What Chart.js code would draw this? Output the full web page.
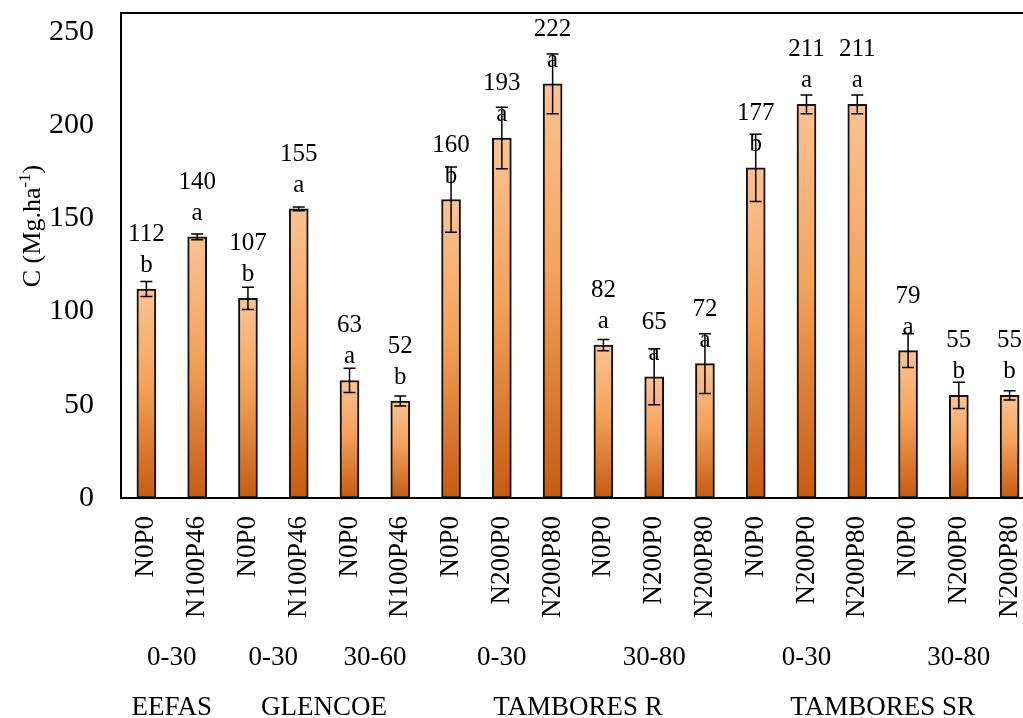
<!DOCTYPE html>
<html>
<head>
<meta charset="utf-8">
<script src="https://cdn.jsdelivr.net/npm/chart.js@4.4.1/dist/chart.umd.min.js"></script>
<style>
  html, body { margin: 0; padding: 0; background: #fff; overflow: hidden; }
  #wrap { width: 1023px; height: 718px; overflow: hidden; }
</style>
</head>
<body>
<div id="wrap"><canvas id="chart" width="1040" height="718"></canvas></div>
<script>
//-----------------------------------------------------------------------------
// data
//-----------------------------------------------------------------------------
const treatments = ["N0P0","N100P46","N0P0","N100P46","N0P0","N100P46",
                    "N0P0","N200P0","N200P80","N0P0","N200P0","N200P80",
                    "N0P0","N200P0","N200P80","N0P0","N200P0","N200P80"];
const carbon  = [112, 140, 107, 155, 63, 52, 160, 193, 222, 82, 65, 72, 177, 211, 211, 79, 55, 55];
const errors  = [4, 1.5, 6, 1, 6.5, 2.7, 17.5, 16.5, 16, 3, 15, 16, 18, 5, 5, 9, 7, 2.5];
const letters = ["b","a","b","a","a","b","b","a","a","a","a","a","b","a","a","a","b","b"];
// second and third row of the category axis: [label, first index, last index]
const depths = [["0-30",0,1],["0-30",2,3],["30-60",4,5],["0-30",6,8],["30-80",9,11],["0-30",12,14],["30-80",15,17]];
const sites  = [["EEFAS",0,1],["GLENCOE",2,5],["TAMBORES R",6,11],["TAMBORES SR",12,17]];
const yTicks = [0, 50, 100, 150, 200, 250];

const SERIF = '"Liberation Serif", "Times New Roman", serif';

// gradient per bar, light on top, dark at the base
function barFill(context){
    const chart = context.chart;
    const y = chart.scales.y;
    if (!y || context.dataIndex === undefined) return "#f4a460";
    const top  = y.getPixelForValue(carbon[context.dataIndex]);
    const base = y.getPixelForValue(0);
    if (!isFinite(top) || !isFinite(base)) return "#f4a460";
    const g = chart.ctx.createLinearGradient(0, top, 0, base);
    g.addColorStop(0, "#fac393");
    g.addColorStop(0.45, "#f5a35b");
    g.addColorStop(1, "#c65b10");
    return g;
}

// keep the plot box where the figure has it
function noPadding(scale){
    scale.paddingTop = 0;
    scale.paddingBottom = 0;
    scale.paddingLeft = 0;
    scale.paddingRight = 0;
}

//-----------------------------------------------------------------------------
// extras drawn on top: frame, labels, error bars, lower axis rows, y title
//-----------------------------------------------------------------------------
const extras = {
    id: "extras",
    afterDatasetsDraw(chart){
        const ctx = chart.ctx;
        const area = chart.chartArea;
        const x = chart.scales.x;
        const y = chart.scales.y;
        const bars = chart.getDatasetMeta(0).data;

        // value + letter above each bar
        ctx.save();
        ctx.fillStyle = "#000";
        ctx.textAlign = "center";
        ctx.textBaseline = "alphabetic";
        ctx.font = `25px ${SERIF}`;
        bars.forEach((bar, i)=>{
            ctx.fillText(letters[i], bar.x, bar.y - 17);
            ctx.fillText(String(carbon[i]), bar.x, bar.y - 48);
        });
        ctx.restore();

        // error bars
        ctx.save();
        ctx.strokeStyle = "#000";
        ctx.lineWidth = 1.5;
        bars.forEach((bar, i)=>{
            const hi = y.getPixelForValue(carbon[i] + errors[i]);
            const lo = y.getPixelForValue(carbon[i] - errors[i]);
            ctx.beginPath();
            ctx.moveTo(bar.x, hi); ctx.lineTo(bar.x, lo);
            ctx.moveTo(bar.x - 6, hi); ctx.lineTo(bar.x + 6, hi);
            ctx.moveTo(bar.x - 6, lo); ctx.lineTo(bar.x + 6, lo);
            ctx.stroke();
        });
        ctx.restore();

        // plot frame
        ctx.save();
        ctx.strokeStyle = "#000";
        ctx.lineWidth = 2;
        ctx.strokeRect(area.left, area.top, area.right - area.left, area.bottom - area.top);
        ctx.restore();

        // depth and site rows under the treatments
        ctx.save();
        ctx.fillStyle = "#000";
        ctx.textAlign = "center";
        ctx.textBaseline = "alphabetic";
        ctx.font = `27px ${SERIF}`;
        depths.forEach(([label, a, b])=>{
            const cx = (x.getPixelForValue(a) + x.getPixelForValue(b)) / 2;
            ctx.fillText(label, cx, 665);
        });
        sites.forEach(([label, a, b])=>{
            const cx = (x.getPixelForValue(a) + x.getPixelForValue(b)) / 2;
            ctx.fillText(label, cx, 715);
        });
        ctx.restore();

        // y title with superscript
        ctx.save();
        ctx.translate(40, 226);
        ctx.rotate(-Math.PI / 2);
        ctx.fillStyle = "#000";
        ctx.textBaseline = "alphabetic";
        const big = `26px ${SERIF}`, small = `17px ${SERIF}`;
        ctx.font = big;   const w1 = ctx.measureText("C (Mg.ha").width;
        ctx.font = small; const w2 = ctx.measureText("-1").width;
        ctx.font = big;   const w3 = ctx.measureText(")").width;
        let px = -(w1 + w2 + w3) / 2;
        ctx.font = big;   ctx.fillText("C (Mg.ha", px, 0); px += w1;
        ctx.font = small; ctx.fillText("-1", px, -10);    px += w2;
        ctx.font = big;   ctx.fillText(")", px, 0);
        ctx.restore();
    }
};

const chart = new Chart(document.getElementById("chart"), {
    type: "bar",
    data: {
        labels: treatments,
        datasets: [{
            label: "C",
            data: carbon,
            backgroundColor: barFill,
            borderColor: "#111",
            borderWidth: 2,
            borderSkipped: false,
            barThickness: 19
        }]
    },
    options: {
        responsive: false,
        animation: false,
        devicePixelRatio: 1,
        layout: { padding: { left: 0, top: 13, right: 5, bottom: 0 } },
        plugins: {
            legend: { display: false },
            tooltip: { enabled: false }
        },
        scales: {
            x: {
                grid: { display: false, drawTicks: false },
                border: { display: false },
                ticks: {
                    autoSkip: false,
                    maxRotation: 90,
                    minRotation: 90,
                    padding: 18,
                    color: "#000",
                    font: { family: SERIF, size: 27 }
                },
                afterFit: scale => { scale.height = 220; noPadding(scale); }
            },
            y: {
                min: 0,
                max: 260,
                grid: { display: false, drawTicks: false },
                border: { display: false },
                ticks: {
                    stepSize: 50,
                    padding: 27,
                    color: "#000",
                    font: { family: SERIF, size: 30 }
                },
                afterBuildTicks: scale => { scale.ticks = yTicks.map(v => ({ value: v })); },
                afterFit: scale => { scale.width = 121; noPadding(scale); }
            }
        }
    },
    plugins: [extras]
});
</script>
</body>
</html>
